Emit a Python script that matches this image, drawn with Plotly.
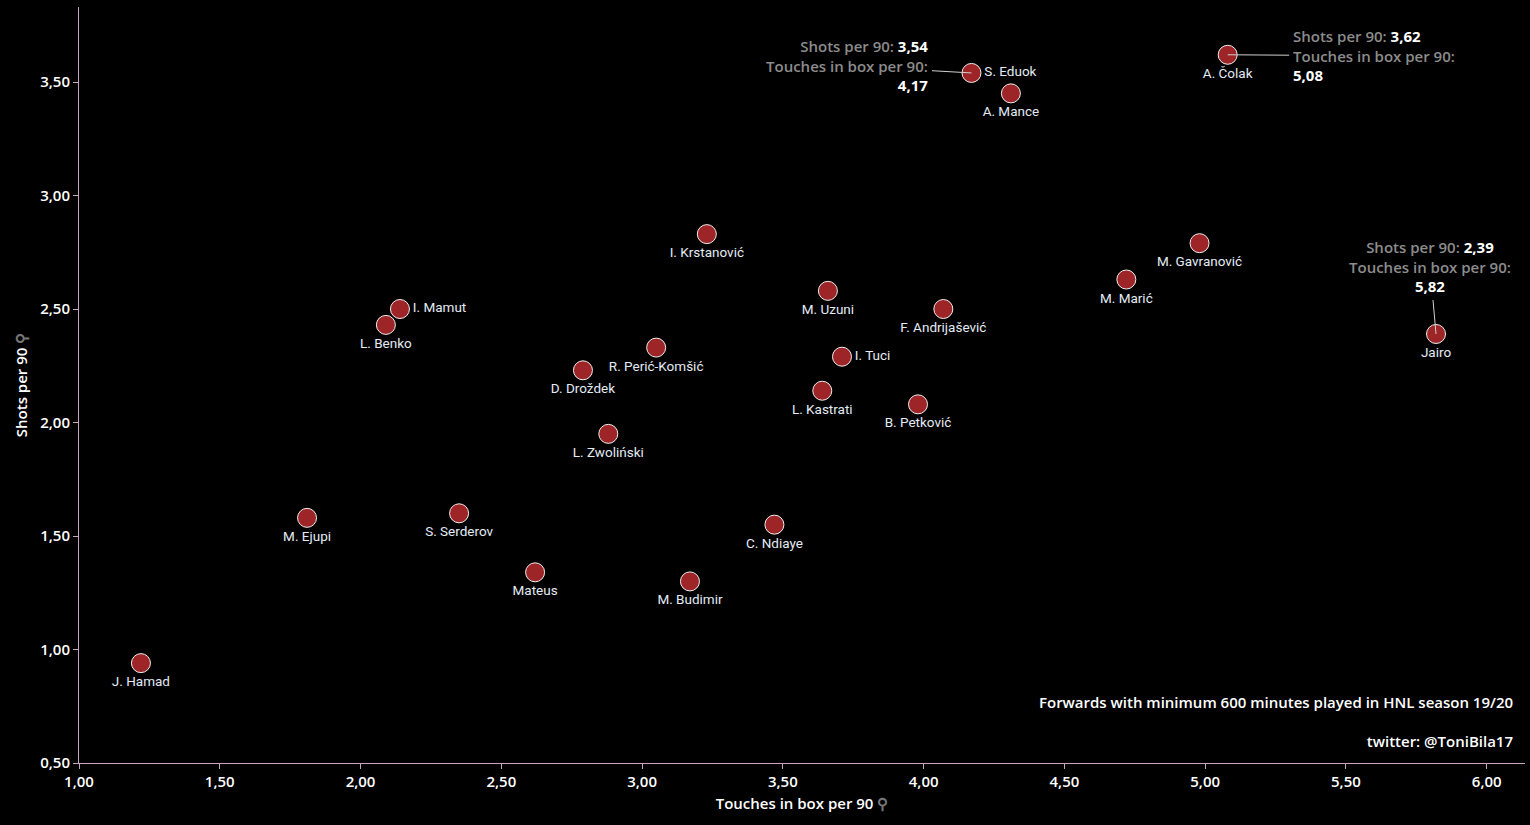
import plotly.graph_objects as go

players = ["J. Hamad", "M. Ejupi", "S. Serderov", "Mateus", "M. Budimir", "C. Ndiaye",
           "L. Zwoliński", "D. Droždek", "R. Perić-Komšić", "L. Benko", "I. Mamut",
           "I. Krstanović", "M. Uzuni", "I. Tuci", "L. Kastrati", "B. Petković",
           "F. Andrijašević", "M. Marić", "M. Gavranović", "A. Mance", "S. Eduok",
           "A. Čolak", "Jairo"]
touches = [1.22, 1.81, 2.35, 2.62, 3.17, 3.47, 2.88, 2.79, 3.05, 2.09, 2.14,
           3.23, 3.66, 3.71, 3.64, 3.98, 4.07, 4.72, 4.98, 4.31, 4.17, 5.08, 5.82]
shots = [0.94, 1.58, 1.60, 1.34, 1.30, 1.55, 1.95, 2.23, 2.33, 2.43, 2.50,
         2.83, 2.58, 2.29, 2.14, 2.08, 2.50, 2.63, 2.79, 3.45, 3.54, 3.62, 2.39]
label_pos = ["bottom center"] * len(players)
for name in ["I. Mamut", "I. Tuci", "S. Eduok"]:
    label_pos[players.index(name)] = "middle right"

highlight = ["S. Eduok", "A. Čolak", "Jairo"]
x_ticks = [1.0, 1.5, 2.0, 2.5, 3.0, 3.5, 4.0, 4.5, 5.0, 5.5, 6.0]
y_ticks = [0.5, 1.0, 1.5, 2.0, 2.5, 3.0, 3.5]

AXIS_COL = "#c7a3c4"
FONT = "Open Sans"

fig = go.Figure()
fig.add_trace(go.Scatter(
    x=touches, y=shots, mode="markers+text", text=players,
    textposition=label_pos,
    textfont=dict(family="Roboto", size=13.5, color="#e3ebf5"),
    marker=dict(size=19, color="#9d2427", line=dict(color="#f0f0f0", width=1)),
    hoverinfo="skip", cliponaxis=False,
))

def fmt(v):
    return f"{v:.2f}".replace(".", ",")

ann_cfg = {
    "S. Eduok": dict(ax=-124, ay=-7, align="right"),
    "A. Čolak": dict(ax=146, ay=1, align="left"),
    "Jairo": dict(ax=-6, ay=-67, align="center"),
}
for name in highlight:
    i = players.index(name)
    cfg = ann_cfg[name]
    txt = (f"<span style='color:#8c8c8c'>Shots per 90:</span> <b>{fmt(shots[i])}</b><br>"
           f"<span style='color:#8c8c8c'>Touches in box per 90:</span><br><b>{fmt(touches[i])}</b>")
    fig.add_annotation(
        x=touches[i], y=shots[i], xref="x", yref="y", text=txt,
        showarrow=True, arrowhead=0, arrowwidth=1, arrowcolor="#d0d0d0",
        ax=cfg["ax"], ay=cfg["ay"], axref="pixel", ayref="pixel",
        align=cfg["align"], standoff=0, borderpad=3,
        font=dict(family=FONT, size=15, color="#ffffff", weight=600),
    )

fig.add_annotation(
    x=1, y=0, xref="paper", yref="paper", xanchor="right", yanchor="bottom",
    xshift=-10, yshift=10, showarrow=False, align="right",
    text="Forwards with minimum 600 minutes played in HNL season 19/20<br><br>twitter: @ToniBila17",
    font=dict(family=FONT, size=15, color="#ffffff", weight=600),
)

fig.update_layout(
    width=1530, height=825,
    paper_bgcolor="#000000", plot_bgcolor="#000000",
    margin=dict(l=79, r=5, t=7, b=62),
    separators=",.",
    showlegend=False,
    xaxis=dict(
        range=[1.0, 6.136], tickvals=x_ticks, tickformat=".2f",
        showgrid=False, zeroline=False, showline=True, linecolor=AXIS_COL, linewidth=1,
        ticks="outside", ticklen=5, tickcolor=AXIS_COL,
        tickfont=dict(family=FONT, size=15, color="#ffffff", weight=600),
        title=dict(text="Touches in box per 90 <span style='color:#777777'>⚲</span>",
                   font=dict(family=FONT, size=15, color="#ffffff", weight=600), standoff=8),
    ),
    yaxis=dict(
        range=[0.5, 3.8305], tickvals=y_ticks, tickformat=".2f",
        showgrid=False, zeroline=False, showline=True, linecolor=AXIS_COL, linewidth=1,
        ticks="outside", ticklen=5, tickcolor=AXIS_COL,
        tickfont=dict(family=FONT, size=15, color="#ffffff", weight=600),
        title=dict(text="Shots per 90 <span style='color:#777777'>⚲</span>",
                   font=dict(family=FONT, size=15, color="#ffffff", weight=600), standoff=8),
    ),
)

fig.write_html("out.html", config={"displayModeBar": False},
               post_script="document.body.style.margin='0';document.body.style.overflow='hidden';")
